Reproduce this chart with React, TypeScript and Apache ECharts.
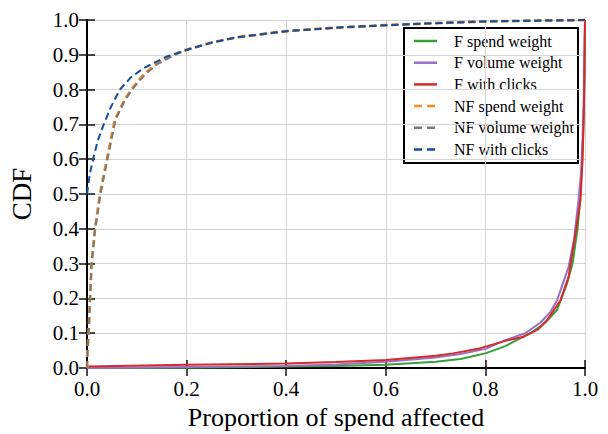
import React, { useEffect, useRef } from "react";
import * as echarts from "echarts";

// Proportion of spend affected (x) and cumulative share (y) for each group
const fSpendX = [0, 0.2, 0.4, 0.5, 0.6, 0.7, 0.75, 0.8, 0.84, 0.89, 0.92, 0.944, 0.964, 0.975, 0.985, 0.99, 0.994, 0.997, 0.999, 1.0];
const fSpendY = [0.0, 0.001, 0.004, 0.006, 0.009, 0.018, 0.026, 0.042, 0.063, 0.1, 0.13, 0.167, 0.243, 0.3, 0.4, 0.48, 0.58, 0.7, 0.85, 1.0];

const fVolumeX = [0, 0.2, 0.4, 0.5, 0.6, 0.7, 0.75, 0.8, 0.84, 0.88, 0.91, 0.93, 0.944, 0.967, 0.978, 0.987, 0.992, 0.995, 0.998, 1.0];
const fVolumeY = [0.0, 0.003, 0.006, 0.01, 0.018, 0.03, 0.04, 0.055, 0.08, 0.1, 0.13, 0.16, 0.195, 0.29, 0.37, 0.483, 0.56, 0.65, 0.8, 1.0];

const fClicksX = [0, 0.2, 0.4, 0.5, 0.6, 0.7, 0.735, 0.79, 0.84, 0.877, 0.905, 0.924, 0.951, 0.967, 0.981, 0.991, 0.995, 0.998, 1.0];
const fClicksY = [0.004, 0.009, 0.013, 0.017, 0.023, 0.035, 0.042, 0.057, 0.078, 0.09, 0.11, 0.138, 0.195, 0.262, 0.387, 0.483, 0.6, 0.75, 1.0];

const nfSpendX = [0, 0.001, 0.003, 0.006, 0.009, 0.016, 0.026, 0.04, 0.056, 0.075, 0.093, 0.115, 0.14, 0.18, 0.2, 0.25, 0.3, 0.4, 0.5, 0.6, 0.7, 0.8, 0.9, 1.0];
const nfSpendY = [0.0, 0.05, 0.09, 0.195, 0.296, 0.397, 0.5, 0.6, 0.713, 0.77, 0.808, 0.845, 0.875, 0.904, 0.915, 0.935, 0.95, 0.968, 0.978, 0.985, 0.991, 0.996, 0.998, 1.0];

const nfVolumeX = [0, 0.001, 0.003, 0.006, 0.009, 0.016, 0.027, 0.041, 0.057, 0.076, 0.094, 0.116, 0.141, 0.181, 0.2, 0.25, 0.3, 0.4, 0.5, 0.6, 0.7, 0.8, 0.9, 1.0];
const nfVolumeY = [0.0, 0.05, 0.09, 0.195, 0.296, 0.397, 0.5, 0.6, 0.713, 0.77, 0.806, 0.843, 0.873, 0.903, 0.914, 0.935, 0.95, 0.968, 0.978, 0.985, 0.991, 0.996, 0.998, 1.0];

const nfClicksX = [0, 0.002, 0.006, 0.014, 0.022, 0.033, 0.048, 0.066, 0.088, 0.113, 0.16, 0.2, 0.25, 0.3, 0.4, 0.5, 0.6, 0.7, 0.8, 0.9, 1.0];
const nfClicksY = [0.5, 0.52, 0.56, 0.61, 0.655, 0.698, 0.75, 0.8, 0.835, 0.861, 0.895, 0.914, 0.935, 0.95, 0.968, 0.978, 0.985, 0.991, 0.996, 0.998, 1.0];

const seriesNames = [
  "F spend weight",
  "F volume weight",
  "F with clicks",
  "NF spend weight",
  "NF volume weight",
  "NF with clicks",
];
const seriesColors = ["#35a035", "#9a6fc4", "#d62a2a", "#ff8c1a", "#7a7a7a", "#144e9c"];
const seriesDashed = [false, false, false, true, true, true];
const seriesWidths = [2, 2, 2, 2.8, 2, 2];
const seriesX = [fSpendX, fVolumeX, fClicksX, nfSpendX, nfVolumeX, nfClicksX];
const seriesY = [fSpendY, fVolumeY, fClicksY, nfSpendY, nfVolumeY, nfClicksY];

const FONT = "'Liberation Serif', 'DejaVu Serif', serif";

// Legend box drawn as graphic elements: frame, line sample and label per row
function buildLegend() {
  const boxX = 404;
  const boxY = 28;
  const boxW = 174;
  const boxH = 135;
  const firstRow = 41;
  const rowStep = 21.7;
  const children: any[] = [
    {
      type: "rect",
      shape: { x: boxX, y: boxY, width: boxW, height: boxH },
      style: { fill: "#fff", stroke: "#000", lineWidth: 2 },
    },
  ];
  seriesNames.forEach((name, i) => {
    const cy = firstRow + i * rowStep;
    children.push({
      type: "line",
      shape: { x1: 414, y1: cy, x2: 437, y2: cy },
      style: {
        stroke: seriesColors[i],
        lineWidth: 2.5,
        lineDash: seriesDashed[i] ? [8, 5] : null,
      },
    });
    children.push({
      type: "text",
      x: 454,
      y: cy,
      style: {
        text: name,
        fontFamily: FONT,
        fontSize: 16,
        fill: "#000",
        verticalAlign: "middle",
        align: "left",
      },
    });
  });
  return [{ type: "group", z: 100, children }];
}

export default function App() {
  const ref = useRef<HTMLDivElement>(null);

  useEffect(() => {
    if (!ref.current) return;
    const chart = echarts.init(ref.current, undefined, { renderer: "svg" });

    const frameLine = { show: true, lineStyle: { color: "#000", width: 2 } };
    const tick = { show: true, inside: true, length: 8, lineStyle: { color: "#111", width: 1.5 } };
    const grid = { show: true, lineStyle: { color: "#d4d4d4", width: 1 } };

    const series = seriesNames.map((name, i) => ({
      name,
      type: "line",
      xAxisIndex: 0,
      yAxisIndex: 0,
      data: seriesX[i].map((x, k) => [x, seriesY[i][k]]),
      showSymbol: false,
      symbol: "none",
      smooth: false,
      z: seriesDashed[i] ? 3 : 2,
      lineStyle: {
        color: seriesColors[i],
        width: seriesWidths[i],
        type: seriesDashed[i] ? [7, 4] : "solid",
      },
      itemStyle: { color: seriesColors[i] },
    }));

    chart.setOption({
      animation: false,
      backgroundColor: "#fff",
      grid: {
        left: 87,
        right: 23,
        top: 20,
        bottom: 66,
        containLabel: false,
        outerBoundsMode: "none",
      },
      xAxis: [
        {
          type: "value",
          position: "bottom",
          min: 0,
          max: 1,
          interval: 0.2,
          axisLine: frameLine,
          axisTick: tick,
          splitLine: grid,
          axisLabel: {
            fontFamily: FONT,
            fontSize: 21,
            color: "#000",
            margin: 10,
            formatter: (v: number) => v.toFixed(1),
          },
          name: "Proportion of spend affected",
          nameLocation: "middle",
          nameGap: 36,
          nameTextStyle: { fontFamily: FONT, fontSize: 26, color: "#000" },
        },
        {
          type: "value",
          position: "top",
          min: 0,
          max: 1,
          interval: 0.2,
          axisLine: frameLine,
          axisTick: tick,
          splitLine: { show: false },
          axisLabel: { show: false },
        },
      ],
      yAxis: [
        {
          type: "value",
          position: "left",
          min: 0,
          max: 1,
          interval: 0.1,
          axisLine: frameLine,
          axisTick: tick,
          splitLine: grid,
          axisLabel: {
            fontFamily: FONT,
            fontSize: 21,
            color: "#000",
            margin: 8,
            formatter: (v: number) => v.toFixed(1),
          },
          name: "CDF",
          nameLocation: "middle",
          nameGap: 52,
          nameRotate: 90,
          nameTextStyle: { fontFamily: FONT, fontSize: 27, color: "#000" },
        },
        {
          type: "value",
          position: "right",
          min: 0,
          max: 1,
          interval: 0.1,
          axisLine: frameLine,
          axisTick: tick,
          splitLine: { show: false },
          axisLabel: { show: false },
        },
      ],
      graphic: buildLegend(),
      series,
    });

    return () => chart.dispose();
  }, []);

  return <div ref={ref} style={{ width: 608, height: 434, position: "absolute", left: 0, top: 0 }} />;
}
